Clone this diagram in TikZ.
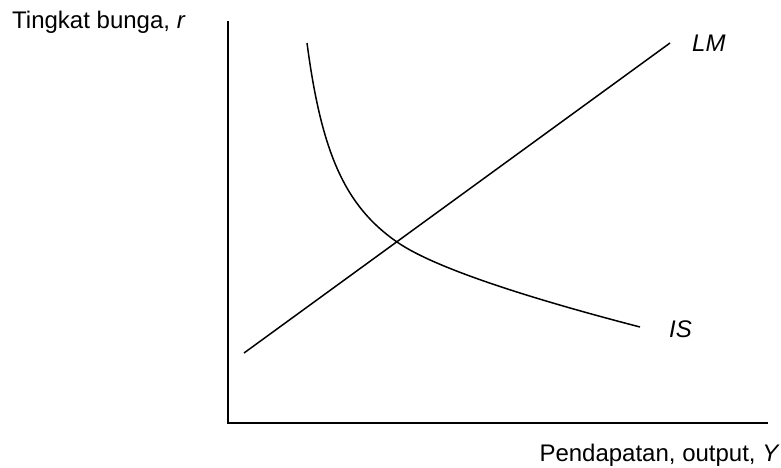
\documentclass[tikz,border=0pt]{standalone}
\usepackage{fontspec}
\setmainfont{Liberation Sans}
\begin{document}
\begin{tikzpicture}[x=1pt,y=-1pt,
  axisline/.style={line width=1.9pt},
  curveline/.style={line width=1.5pt},
  lbl/.style={inner sep=0pt,font=\fontsize{24}{28}\selectfont}]
\useasboundingbox (0,0) rectangle (781,468);
\coordinate (top) at (228,21);
\coordinate (O) at (228,423);
\coordinate (right) at (768,423);
\draw[axisline] (top) -- (O) -- (right);
\coordinate (lm1) at (244,353);
\coordinate (lm2) at (670,43);
\draw[curveline] (lm1) -- (lm2);
\coordinate (is1) at (307,43);
\coordinate (isx) at (397,242);
\coordinate (is2) at (640,327);
\draw[curveline] (is1) .. controls (321.5,153) and (345,206) .. (isx)
  .. controls (430,265) and (511,293.5) .. (is2);
\node[lbl,anchor=base west] (ylab) at (12,29) {Tingkat bunga, \textit{r}};
\node[lbl,anchor=base west] (lmlab) at (692,52) {\textit{LM}};
\node[lbl,anchor=base west] (islab) at (669,337) {\textit{IS}};
\node[lbl,anchor=base east] (xlab) at (780,461) {Pendapatan, output, \textit{Y}};
\end{tikzpicture}
\end{document}
